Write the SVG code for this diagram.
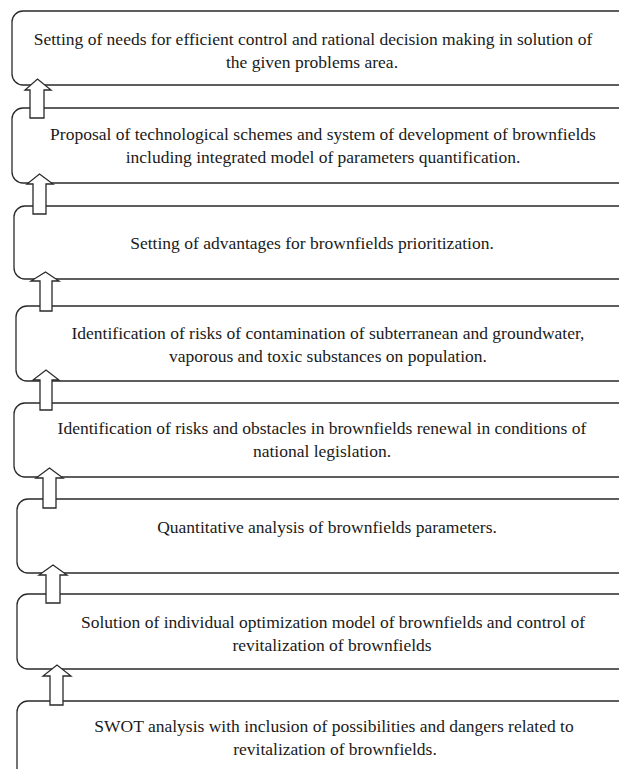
<svg xmlns="http://www.w3.org/2000/svg" width="619" height="769" viewBox="0 0 619 769">
<style>
.box{fill:#fff;stroke:#2a2a2a;stroke-width:1.3}
.arr{fill:#fff;stroke:#2a2a2a;stroke-width:1.3;stroke-linejoin:miter}
text{font-family:"Liberation Serif","Times New Roman",serif;font-size:17.5px;fill:#1a1a1a;text-anchor:middle}
</style>
<rect width="619" height="769" fill="#fff"/>
<g id="n1"><rect class="box" x="12" y="11" width="618" height="74" rx="11"/>
<text x="313" y="45">Setting of needs for efficient control and rational decision making in solution of</text>
<text x="312" y="68">the given problems area.</text></g>
<g id="n2"><rect class="box" x="12" y="108" width="618" height="75" rx="11"/>
<text x="323" y="140">Proposal of technological schemes and system of development of brownfields</text>
<text x="323" y="163">including integrated model of parameters quantification.</text></g>
<g id="n3"><rect class="box" x="14" y="206" width="616" height="73" rx="11"/>
<text x="312" y="249">Setting of advantages for brownfields prioritization.</text></g>
<g id="n4"><rect class="box" x="16" y="306" width="614" height="75" rx="11"/>
<text x="328" y="339">Identification of risks of contamination of subterranean and groundwater,</text>
<text x="328" y="362">vaporous and toxic substances on population.</text></g>
<g id="n5"><rect class="box" x="14" y="403" width="616" height="74" rx="11"/>
<text x="322" y="434">Identification of risks and obstacles in brownfields renewal in conditions of</text>
<text x="322" y="457">national legislation.</text></g>
<g id="n6"><rect class="box" x="17" y="499" width="613" height="74" rx="11"/>
<text x="327" y="533">Quantitative analysis of brownfields parameters.</text></g>
<g id="n7"><rect class="box" x="17" y="594" width="613" height="75" rx="11"/>
<text x="333" y="628">Solution of individual optimization model of brownfields and control of</text>
<text x="332" y="651">revitalization of brownfields</text></g>
<g id="n8"><rect class="box" x="17" y="701" width="613" height="90" rx="11"/>
<text x="334" y="732">SWOT analysis with inclusion of possibilities and dangers related to</text>
<text x="335" y="755">revitalization of brownfields.</text></g>
<g id="connectors">
<polygon class="arr" points="30,118 30,90 25,90 37.5,79 51,90 44,90 44,118"/>
<polygon class="arr" points="33,214 33,184 27,184 39.5,174 53,184 46,184 46,214"/>
<polygon class="arr" points="40,311 40,281 31,281 45.5,272 59,281 52,281 52,311"/>
<polygon class="arr" points="40,410 40,380 33,380 46,370 59,380 52,380 52,410"/>
<polygon class="arr" points="43,508 43,478 36,478 49.5,468 63,478 56,478 56,508"/>
<polygon class="arr" points="46,603 46,575 39,575 53,565 67,575 60,575 60,603"/>
<polygon class="arr" points="50,705 50,676 43,676 57,665 71,676 63,676 63,705"/>
</g>
</svg>
